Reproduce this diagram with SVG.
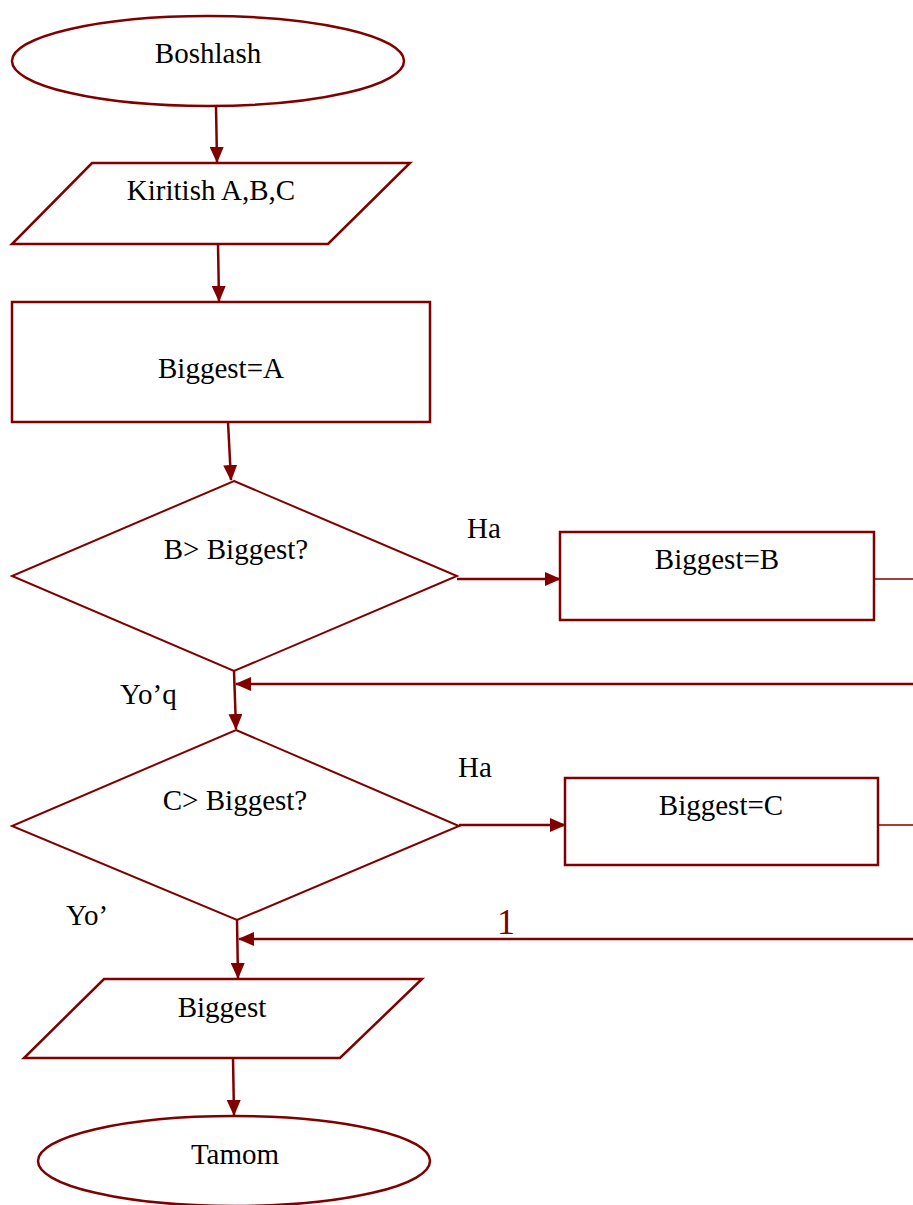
<svg xmlns="http://www.w3.org/2000/svg" width="913" height="1205" viewBox="0 0 913 1205">
<defs>
<style>
.s{fill:#fff;stroke:#800000;stroke-width:2.5}
.d{fill:#fff;stroke:#800000;stroke-width:2}
.c{fill:none;stroke:#800000;stroke-width:2.5}
.t{font-family:"Liberation Serif","Times New Roman",serif;font-size:29px;fill:#000;text-anchor:middle}
.l{font-family:"Liberation Serif","Times New Roman",serif;font-size:29px;fill:#000}
</style>
<marker id="ah" markerWidth="16" markerHeight="14" refX="15" refY="7" orient="auto" markerUnits="userSpaceOnUse">
<path d="M0,0 L16,7 L0,14 Z" fill="#800000"/>
</marker>
</defs>
<rect width="913" height="1205" fill="#fff"/>
<g id="connectors">
<line class="c" x1="216" y1="106" x2="217" y2="162" marker-end="url(#ah)"/>
<line class="c" x1="218" y1="244" x2="219" y2="301" marker-end="url(#ah)"/>
<line class="c" x1="228" y1="422" x2="231" y2="480" marker-end="url(#ah)"/>
<line class="c" x1="457" y1="579" x2="560" y2="579" marker-end="url(#ah)"/>
<line x1="874" y1="579" x2="913" y2="579" stroke="#800000" stroke-width="1.5"/>
<line class="c" x1="913" y1="684" x2="236" y2="684" marker-end="url(#ah)"/>
<line class="c" x1="234" y1="671" x2="236" y2="729" marker-end="url(#ah)"/>
<line class="c" x1="459" y1="825" x2="565" y2="825" marker-end="url(#ah)"/>
<line x1="878" y1="825" x2="913" y2="825" stroke="#800000" stroke-width="1.5"/>
<line class="c" x1="913" y1="939" x2="239" y2="939" marker-end="url(#ah)"/>
<line class="c" x1="237" y1="920" x2="238" y2="978" marker-end="url(#ah)"/>
<line class="c" x1="233" y1="1058" x2="234" y2="1115" marker-end="url(#ah)"/>
<text class="l" x="467" y="538">Ha</text>
<text class="l" x="120" y="704">Yo’q</text>
<text class="l" x="458" y="777">Ha</text>
<text class="l" x="66" y="925">Yo’</text>
<text x="506" y="934" font-family="Liberation Serif, serif" font-size="36" fill="#800000" text-anchor="middle">1</text>
</g>
<g id="start">
<ellipse class="s" cx="208" cy="61" rx="196" ry="45"/>
<text class="t" x="208" y="63">Boshlash</text>
</g>
<g id="input">
<polygon class="s" points="92,163 410,163 328,244 12,244"/>
<text class="t" x="211" y="200">Kiritish A,B,C</text>
</g>
<g id="assignA">
<rect class="s" x="12" y="302" width="418" height="120"/>
<text class="t" x="221" y="378">Biggest=A</text>
</g>
<g id="condB">
<polygon class="d" points="234,481 457,576 234,671 12,576"/>
<text class="t" x="236" y="559">B&gt; Biggest?</text>
</g>
<g id="assignB">
<rect class="s" x="560" y="532" width="314" height="88"/>
<text class="t" x="717" y="569">Biggest=B</text>
</g>
<g id="condC">
<polygon class="d" points="236,730 459,826 237,920 12,826"/>
<text class="t" x="235" y="810">C&gt; Biggest?</text>
</g>
<g id="assignC">
<rect class="s" x="565" y="778" width="313" height="87"/>
<text class="t" x="721" y="815">Biggest=C</text>
</g>
<g id="output">
<polygon class="s" points="104,979 422,979 340,1058 24,1058"/>
<text class="t" x="222" y="1017">Biggest</text>
</g>
<g id="end">
<ellipse class="s" cx="234" cy="1161" rx="196" ry="45"/>
<text class="t" x="235" y="1164">Tamom</text>
</g>
</svg>
